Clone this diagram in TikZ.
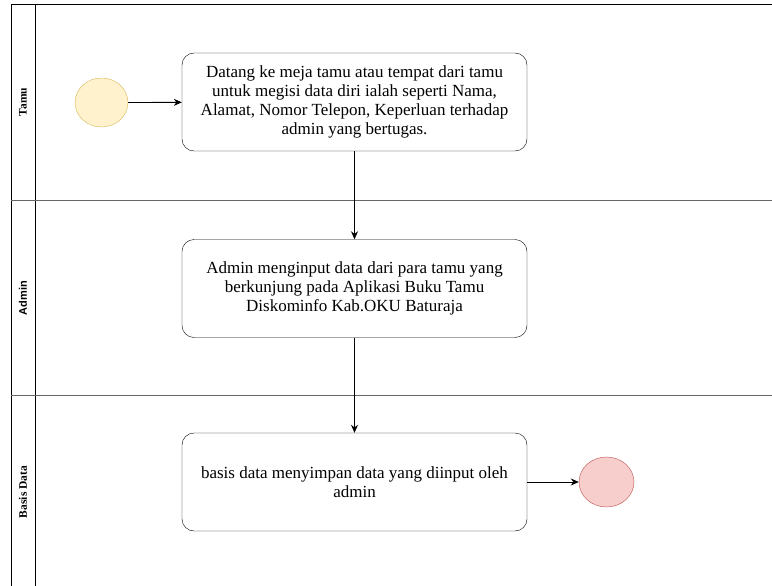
\documentclass[tikz,border=0pt]{standalone}
\usepackage{fontspec}
\setmainfont{Liberation Serif}
\setsansfont{Liberation Sans}
\usetikzlibrary{arrows.meta,shapes.geometric}
\definecolor{startfill}{HTML}{FFF2CC}
\definecolor{startline}{HTML}{D6B656}
\definecolor{endfill}{HTML}{F8CECC}
\definecolor{endline}{HTML}{B85450}
\definecolor{lanegrey}{HTML}{666666}
\begin{document}
\begin{tikzpicture}[x=1pt,y=-1pt,
  task/.style={draw, rounded corners=12pt, minimum width=345pt, minimum height=98pt, align=center, font=\fontsize{17}{19}\selectfont},
  lanelabel/.style={rotate=90, font=\bfseries\fontsize{11.5}{13}\selectfont},
  flow/.style={-{Stealth[length=8pt,width=7pt]}, line width=0.8pt}]
\useasboundingbox (0,0) rectangle (772,586);
% pool and lanes
\draw[line width=1pt] (772,5) -- (11,5) -- (11,586);
\draw[line width=1pt] (35,5) -- (35,586);
\draw[lanegrey, line width=1pt] (11,200) -- (772,200);
\draw[lanegrey, line width=1pt] (11,395) -- (772,395);
\node[lanelabel] (lane1) at (23,102){Tamu};
\node[lanelabel, font=\sffamily\bfseries\fontsize{11}{12}\selectfont] (lane2) at (23,298){Admin};
\node[lanelabel] (lane3) at (23,492){Basis Data};
% events and tasks
\node[ellipse, draw=startline, fill=startfill, minimum width=53pt, minimum height=49pt, inner sep=0pt] (start) at (101.5,102.5){};
\node[task] (task1) at (354.5,102){Datang ke meja tamu atau tempat dari tamu\\untuk megisi data diri ialah seperti Nama,\\Alamat, Nomor Telepon, Keperluan terhadap\\admin yang bertugas.};
\node[task] (task2) at (354.5,288.5){Admin menginput data dari para tamu yang\\berkunjung pada Aplikasi Buku Tamu\\Diskominfo Kab.OKU Baturaja};
\node[task] (task3) at (354.5,482){basis data menyimpan data yang diinput oleh\\admin};
\node[ellipse, draw=endline, fill=endfill, minimum width=55pt, minimum height=50pt, inner sep=0pt] (end) at (606.5,482){};
\draw[flow] (start) -- (task1);
\draw[flow] (task1) -- (task2);
\draw[flow] (task2) -- (task3);
\draw[flow] (task3) -- (end);
\end{tikzpicture}
\end{document}
